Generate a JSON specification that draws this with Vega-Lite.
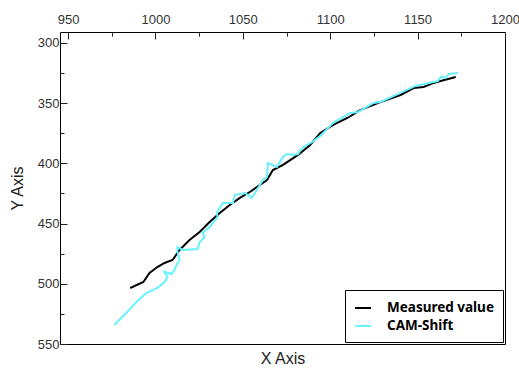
{
  "$schema": "https://vega.github.io/schema/vega-lite/v6.json",
  "width": 445,
  "height": 312,
  "autosize": {"type": "none"},
  "padding": {"left": 60, "top": 32, "right": 14, "bottom": 26},
  "config": {
    "view": {"stroke": "#000000", "strokeWidth": 1},
    "axis": {"labelFont": "Liberation Sans", "titleFont": "Liberation Sans", "labelColor": "#333333", "labelFontSize": 13, "titleFontSize": 16, "titleFontWeight": "normal", "titleColor": "#222222", "grid": false, "domain": false, "tickColor": "#222222", "tickWidth": 1}
  },
  "data": {
    "values": [
      {"s": "Measured value", "i": 1, "x": 985.6, "y": 503.5},
      {"s": "Measured value", "i": 2, "x": 993.1, "y": 498.5},
      {"s": "Measured value", "i": 3, "x": 996.6, "y": 491.0},
      {"s": "Measured value", "i": 4, "x": 1001.1, "y": 486.1},
      {"s": "Measured value", "i": 5, "x": 1005.2, "y": 482.7},
      {"s": "Measured value", "i": 6, "x": 1009.8, "y": 480.2},
      {"s": "Measured value", "i": 7, "x": 1013.8, "y": 471.9},
      {"s": "Measured value", "i": 8, "x": 1019.5, "y": 463.6},
      {"s": "Measured value", "i": 9, "x": 1025.3, "y": 457.0},
      {"s": "Measured value", "i": 10, "x": 1031.0, "y": 448.7},
      {"s": "Measured value", "i": 11, "x": 1036.8, "y": 441.2},
      {"s": "Measured value", "i": 12, "x": 1042.5, "y": 434.6},
      {"s": "Measured value", "i": 13, "x": 1048.3, "y": 428.7},
      {"s": "Measured value", "i": 14, "x": 1054.0, "y": 423.8},
      {"s": "Measured value", "i": 15, "x": 1063.8, "y": 413.8},
      {"s": "Measured value", "i": 16, "x": 1067.2, "y": 405.5},
      {"s": "Measured value", "i": 17, "x": 1073.0, "y": 401.3},
      {"s": "Measured value", "i": 18, "x": 1081.6, "y": 393.0},
      {"s": "Measured value", "i": 19, "x": 1088.5, "y": 384.7},
      {"s": "Measured value", "i": 20, "x": 1094.3, "y": 374.8},
      {"s": "Measured value", "i": 21, "x": 1101.7, "y": 368.1},
      {"s": "Measured value", "i": 22, "x": 1109.8, "y": 362.3},
      {"s": "Measured value", "i": 23, "x": 1117.2, "y": 355.7},
      {"s": "Measured value", "i": 24, "x": 1127.6, "y": 349.8},
      {"s": "Measured value", "i": 25, "x": 1140.2, "y": 343.2},
      {"s": "Measured value", "i": 26, "x": 1147.7, "y": 337.4},
      {"s": "Measured value", "i": 27, "x": 1153.4, "y": 336.5},
      {"s": "Measured value", "i": 28, "x": 1159.2, "y": 333.2},
      {"s": "Measured value", "i": 29, "x": 1163.2, "y": 331.6},
      {"s": "Measured value", "i": 30, "x": 1171.8, "y": 328.2},
      {"s": "CAM-Shift", "i": 1, "x": 976.4, "y": 534.2},
      {"s": "CAM-Shift", "i": 2, "x": 983.3, "y": 524.3},
      {"s": "CAM-Shift", "i": 3, "x": 989.1, "y": 515.1},
      {"s": "CAM-Shift", "i": 4, "x": 994.8, "y": 507.7},
      {"s": "CAM-Shift", "i": 5, "x": 1001.1, "y": 503.5},
      {"s": "CAM-Shift", "i": 6, "x": 1005.2, "y": 498.5},
      {"s": "CAM-Shift", "i": 7, "x": 1006.9, "y": 494.4},
      {"s": "CAM-Shift", "i": 8, "x": 1005.2, "y": 490.2},
      {"s": "CAM-Shift", "i": 9, "x": 1009.2, "y": 491.9},
      {"s": "CAM-Shift", "i": 10, "x": 1010.9, "y": 488.5},
      {"s": "CAM-Shift", "i": 11, "x": 1012.1, "y": 484.4},
      {"s": "CAM-Shift", "i": 12, "x": 1013.8, "y": 480.2},
      {"s": "CAM-Shift", "i": 13, "x": 1012.6, "y": 473.6},
      {"s": "CAM-Shift", "i": 14, "x": 1012.6, "y": 469.4},
      {"s": "CAM-Shift", "i": 15, "x": 1015.5, "y": 471.9},
      {"s": "CAM-Shift", "i": 16, "x": 1024.1, "y": 471.1},
      {"s": "CAM-Shift", "i": 17, "x": 1025.3, "y": 465.3},
      {"s": "CAM-Shift", "i": 18, "x": 1028.2, "y": 461.1},
      {"s": "CAM-Shift", "i": 19, "x": 1027.0, "y": 457.8},
      {"s": "CAM-Shift", "i": 20, "x": 1031.0, "y": 452.8},
      {"s": "CAM-Shift", "i": 21, "x": 1035.6, "y": 444.5},
      {"s": "CAM-Shift", "i": 22, "x": 1035.1, "y": 441.2},
      {"s": "CAM-Shift", "i": 23, "x": 1038.5, "y": 432.9},
      {"s": "CAM-Shift", "i": 24, "x": 1044.3, "y": 432.9},
      {"s": "CAM-Shift", "i": 25, "x": 1045.4, "y": 426.3},
      {"s": "CAM-Shift", "i": 26, "x": 1051.2, "y": 424.6},
      {"s": "CAM-Shift", "i": 27, "x": 1055.2, "y": 428.7},
      {"s": "CAM-Shift", "i": 28, "x": 1056.9, "y": 424.6},
      {"s": "CAM-Shift", "i": 29, "x": 1061.5, "y": 413.8},
      {"s": "CAM-Shift", "i": 30, "x": 1063.8, "y": 411.3},
      {"s": "CAM-Shift", "i": 31, "x": 1064.4, "y": 399.7},
      {"s": "CAM-Shift", "i": 32, "x": 1069.5, "y": 403.0},
      {"s": "CAM-Shift", "i": 33, "x": 1073.0, "y": 394.7},
      {"s": "CAM-Shift", "i": 34, "x": 1075.3, "y": 392.2},
      {"s": "CAM-Shift", "i": 35, "x": 1078.7, "y": 393.0},
      {"s": "CAM-Shift", "i": 36, "x": 1081.6, "y": 392.2},
      {"s": "CAM-Shift", "i": 37, "x": 1083.9, "y": 387.2},
      {"s": "CAM-Shift", "i": 38, "x": 1086.8, "y": 384.7},
      {"s": "CAM-Shift", "i": 39, "x": 1089.7, "y": 382.2},
      {"s": "CAM-Shift", "i": 40, "x": 1094.3, "y": 377.2},
      {"s": "CAM-Shift", "i": 41, "x": 1101.7, "y": 366.4},
      {"s": "CAM-Shift", "i": 42, "x": 1111.5, "y": 358.1},
      {"s": "CAM-Shift", "i": 43, "x": 1116.1, "y": 357.3},
      {"s": "CAM-Shift", "i": 44, "x": 1124.7, "y": 349.8},
      {"s": "CAM-Shift", "i": 45, "x": 1128.7, "y": 349.0},
      {"s": "CAM-Shift", "i": 46, "x": 1140.2, "y": 341.5},
      {"s": "CAM-Shift", "i": 47, "x": 1148.8, "y": 335.7},
      {"s": "CAM-Shift", "i": 48, "x": 1161.5, "y": 331.6},
      {"s": "CAM-Shift", "i": 49, "x": 1163.2, "y": 328.2},
      {"s": "CAM-Shift", "i": 50, "x": 1166.1, "y": 329.1},
      {"s": "CAM-Shift", "i": 51, "x": 1167.8, "y": 325.7},
      {"s": "CAM-Shift", "i": 52, "x": 1173.0, "y": 324.9}
    ]
  },
  "mark": {"type": "line", "strokeWidth": 2, "clip": true},
  "encoding": {
    "x": {
      "field": "x", "type": "quantitative",
      "scale": {"domain": [945.4, 1200], "nice": false, "zero": false},
      "axis": {
        "orient": "top",
        "format": "d",
        "values": [950, 975, 1000, 1025, 1050, 1075, 1100, 1125, 1150, 1175, 1200],
        "labelExpr": "datum.value % 50 === 0 ? datum.label : ''",
        "tickSize": {"condition": {"test": "datum.value % 50 === 0", "value": -7}, "value": -4},
        "labelPadding": 13,
        "labelFlush": false,
        "title": "X Axis",
        "titleY": 326,
        "titleBaseline": "middle"
      }
    },
    "y": {
      "field": "y", "type": "quantitative",
      "scale": {"domain": [290.9, 550], "reverse": true, "nice": false, "zero": false},
      "axis": {
        "orient": "left",
        "format": "d",
        "values": [300, 325, 350, 375, 400, 425, 450, 475, 500, 525, 550],
        "labelExpr": "datum.value % 50 === 0 ? datum.label : ''",
        "tickSize": {"condition": {"test": "datum.value % 50 === 0", "value": -7}, "value": -4},
        "labelPadding": 8,
        "labelFlush": false,
        "title": "Y Axis",
        "titlePadding": 12
      }
    },
    "color": {
      "field": "s", "type": "nominal",
      "scale": {"domain": ["Measured value", "CAM-Shift"], "range": ["#000000", "#66f2ff"]},
      "legend": {
        "title": null,
        "orient": "bottom-right",
        "offset": 2,
        "strokeColor": "#000000",
        "fillColor": "#ffffff",
        "padding": 9,
        "symbolType": "stroke",
        "symbolSize": 256,
        "symbolStrokeWidth": 2,
        "labelFont": "Noto Sans",
        "labelFontSize": 13.5,
        "labelFontWeight": "bold",
        "labelColor": "#000000",
        "labelOffset": 15,
        "rowPadding": 2
      }
    },
    "order": {"field": "i", "type": "quantitative"}
  }
}
